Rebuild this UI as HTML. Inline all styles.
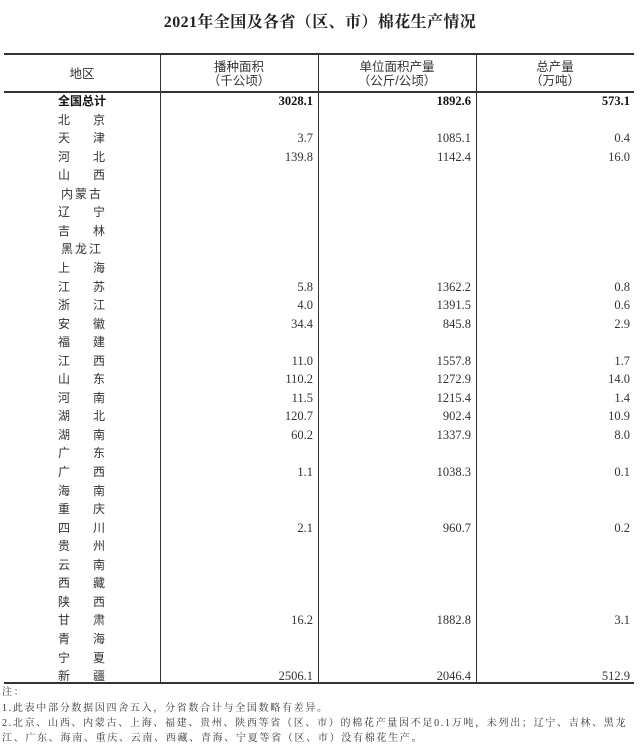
<!DOCTYPE html>
<html><head><meta charset="utf-8"><style>
body{margin:0;width:640px;height:751px;background:#fff;position:relative;overflow:hidden;font-family:"Liberation Sans","Noto Sans CJK SC",sans-serif;color:#222}
.a{position:absolute;white-space:nowrap}
.t{left:0;width:640px;top:12px;text-align:center;font-family:"Liberation Serif","Noto Serif CJK SC",serif;font-weight:bold;font-size:16px;letter-spacing:0.4px;line-height:22px}
.h{position:absolute;background:#333}
.hd{font-size:12.5px;text-align:center;line-height:14px;color:#333}
.r{font-size:12px;line-height:14px;color:#333}
.n{font-family:"Liberation Serif",serif;font-size:12.5px;line-height:14px;text-align:right;color:#333}
.nt{font-family:"Liberation Serif","Noto Serif CJK SC",serif;font-size:10px;letter-spacing:1.7px;line-height:12px;color:#333}
</style></head><body>
<div class="a t">2021年全国及各省（区、市）棉花生产情况</div>
<div class="h" style="left:4px;top:53px;width:630px;height:2px"></div>
<div class="h" style="left:4px;top:91px;width:630px;height:1.5px"></div>
<div class="h" style="left:4px;top:682px;width:630px;height:1.5px"></div>
<div class="h" style="left:160px;top:54px;width:1px;height:629px"></div>
<div class="h" style="left:318px;top:54px;width:1px;height:629px"></div>
<div class="h" style="left:476px;top:54px;width:1px;height:629px"></div>
<div class="a hd" style="left:4px;width:156px;top:67px">地区</div>
<div class="a hd" style="left:160px;width:158px;top:60px">播种面积<br>（千公顷）</div>
<div class="a hd" style="left:318px;width:158px;top:60px">单位面积产量<br>（公斤/公顷）</div>
<div class="a hd" style="left:476px;width:158px;top:60px">总产量<br>（万吨）</div>
<div id="rows"></div>
<div class="a nt" style="left:2px;top:687px">注：</div>
<div class="a nt" style="left:2px;top:703px">1.此表中部分数据因四舍五入，分省数合计与全国数略有差异。</div>
<div class="a nt" style="left:2px;top:718px">2.北京、山西、内蒙古、上海、福建、贵州、陕西等省（区、市）的棉花产量因不足0.1万吨，未列出；辽宁、吉林、黑龙</div>
<div class="a nt" style="left:2px;top:733px">江、广东、海南、重庆、云南、西藏、青海、宁夏等省（区、市）没有棉花生产。</div>
<script>
var d=[["全国总计","3028.1","1892.6","573.1"],["北京"],["天津","3.7","1085.1","0.4"],["河北","139.8","1142.4","16.0"],["山西"],["内蒙古"],["辽宁"],["吉林"],["黑龙江"],["上海"],["江苏","5.8","1362.2","0.8"],["浙江","4.0","1391.5","0.6"],["安徽","34.4","845.8","2.9"],["福建"],["江西","11.0","1557.8","1.7"],["山东","110.2","1272.9","14.0"],["河南","11.5","1215.4","1.4"],["湖北","120.7","902.4","10.9"],["湖南","60.2","1337.9","8.0"],["广东"],["广西","1.1","1038.3","0.1"],["海南"],["重庆"],["四川","2.1","960.7","0.2"],["贵州"],["云南"],["西藏"],["陕西"],["甘肃","16.2","1882.8","3.1"],["青海"],["宁夏"],["新疆","2506.1","2046.4","512.9"]];
var h="";
d.forEach(function(r,i){var y=(101+18.55*i-7).toFixed(1);var n=r[0];
if(i==0)h+='<div class="a r" style="left:58px;top:'+y+'px;font-weight:bold;color:#111">'+n+'</div>';
else if(n.length==2)h+='<div class="a r" style="left:58px;top:'+y+'px">'+n[0]+'</div><div class="a r" style="left:93px;top:'+y+'px">'+n[1]+'</div>';
else h+='<div class="a r" style="left:61px;top:'+y+'px;letter-spacing:2px">'+n+'</div>';
if(r[1]){var b=i==0?'font-weight:bold;color:#111;':'';
h+='<div class="a n" style="'+b+'left:160px;width:153px;top:'+y+'px">'+r[1]+'</div>';
h+='<div class="a n" style="'+b+'left:318px;width:153px;top:'+y+'px">'+r[2]+'</div>';
h+='<div class="a n" style="'+b+'left:476px;width:154px;top:'+y+'px">'+r[3]+'</div>';}
});
document.getElementById("rows").innerHTML=h;
</script>
</body></html>
